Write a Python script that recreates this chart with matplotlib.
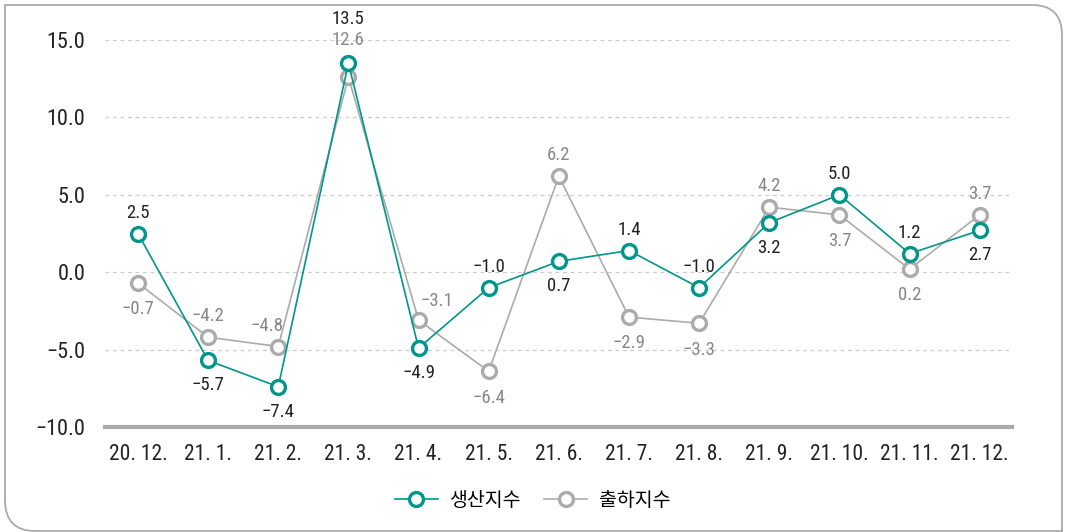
import matplotlib
matplotlib.use("Agg")
import matplotlib.pyplot as plt
from matplotlib.patches import PathPatch
from matplotlib.path import Path
from matplotlib.lines import Line2D
from matplotlib import font_manager
import logging
logging.getLogger("matplotlib.font_manager").setLevel(logging.ERROR)

categories = ["20. 12.", "21. 1.", "21. 2.", "21. 3.", "21. 4.", "21. 5.", "21. 6.",
              "21. 7.", "21. 8.", "21. 9.", "21. 10.", "21. 11.", "21. 12."]
production = [2.5, -5.7, -7.4, 13.5, -4.9, -1.0, 0.7, 1.4, -1.0, 3.2, 5.0, 1.2, 2.7]
shipment = [-0.7, -4.2, -4.8, 12.6, -3.1, -6.4, 6.2, -2.9, -3.3, 4.2, 3.7, 0.2, 3.7]
series_names = ["생산지수", "출하지수"]
yticks = [-10.0, -5.0, 0.0, 5.0, 10.0, 15.0]

# label placement (offset in points): (dx, dy)
prod_off = [(0, 15), (0, -18), (0, -18), (0, 32), (0, -18), (0, 15), (0, -18),
            (0, 15), (0, 15), (0, -18), (0, 15), (0, 15), (0, -18)]
ship_off = [(0, -19), (0, 15), (-8, 15), (0, 27), (13, 14), (0, -19), (0, 15),
            (0, -19), (0, -19), (0, 15), (0, -19), (0, -19), (0, 15)]

names = {f.name for f in font_manager.fontManager.ttflist}
num_font = "DejaVu Sans"
for cand in ["Roboto Condensed", "Liberation Sans Narrow", "Open Sans Condensed", "Roboto"]:
    if cand in names:
        num_font = cand
        break

GREEN = "#00968C"
GRAY = "#ABABAB"

fig = plt.figure(figsize=(10.65, 5.32), dpi=100)
W, H = 1065.0, 532.0
def P(x, y):
    return (x / W, 1 - y / H)
verts = [P(5, 500), P(5, 5), P(1032, 5), P(1062, 5), P(1062, 35), P(1062, 534),
         P(5, 500), P(5, 531), P(35, 531), P(1062, 531)]
codes = [Path.MOVETO, Path.LINETO, Path.LINETO, Path.CURVE3, Path.CURVE3, Path.LINETO,
         Path.MOVETO, Path.CURVE3, Path.CURVE3, Path.LINETO]
fig.patches.append(PathPatch(Path(verts, codes), transform=fig.transFigure,
                             fill=False, edgecolor="#AAAAAA", linewidth=1.3))

ax = fig.add_axes([105 / W, 1 - 427 / H, (1012 - 105) / W, (427 - 40) / H])
ax.set_ylim(-10, 15)
ax.set_xlim(-0.47, len(categories) - 1 + 0.46)
x = list(range(len(categories)))

for y in yticks[1:]:
    ax.axhline(y, color="#CCCCCC", linestyle=(0, (3, 3)), linewidth=0.9, zorder=0)
ax.axhline(-10, color="#AAAAAA", linewidth=3, zorder=1, clip_on=False)

ax.plot(x, shipment, color=GRAY, linewidth=1.2, marker="o", markersize=10,
        markerfacecolor="white", markeredgecolor=GRAY, markeredgewidth=2.4, zorder=3)
ax.plot(x, production, color=GREEN, linewidth=1.2, marker="o", markersize=10,
        markerfacecolor="white", markeredgecolor=GREEN, markeredgewidth=2.4, zorder=4)

def fmt(v):
    return f"{v:.1f}".replace("-", "\u2212")

for xi, v, (dx, dy) in zip(x, production, prod_off):
    ax.annotate(fmt(v), (xi, v), xytext=(dx, dy), textcoords="offset points",
                ha="center", va="center", fontsize=13.5, color="#222222",
                family=num_font, annotation_clip=False, zorder=5)
for xi, v, (dx, dy) in zip(x, shipment, ship_off):
    ax.annotate(fmt(v), (xi, v), xytext=(dx, dy), textcoords="offset points",
                ha="center", va="center", fontsize=13.5, color="#888888",
                family=num_font, annotation_clip=False, zorder=5)

for s in ax.spines.values():
    s.set_visible(False)
ax.set_yticks(yticks)
ax.set_yticklabels([fmt(t) for t in yticks], family=num_font, fontsize=16, color="#222222")
ax.set_xticks(x)
ax.set_xticklabels(categories, family=num_font, fontsize=15.5, color="#222222")
ax.tick_params(axis="both", length=0)
ax.tick_params(axis="y", pad=14)
ax.tick_params(axis="x", pad=12)

handles = [
    Line2D([0], [0], color=GREEN, linewidth=1.2, marker="o", markersize=10,
           markerfacecolor="white", markeredgecolor=GREEN, markeredgewidth=2.4),
    Line2D([0], [0], color=GRAY, linewidth=1.2, marker="o", markersize=10,
           markerfacecolor="white", markeredgecolor=GRAY, markeredgewidth=2.4),
]
fig.legend(handles, series_names, loc="center", bbox_to_anchor=(0.5, 1 - 500 / H),
           ncol=2, frameon=False, handlelength=2.2, handletextpad=0.6, columnspacing=1.2,
           prop={"family": ["Noto Sans CJK KR", "DejaVu Sans"], "size": 14})

fig.savefig("out.png", dpi=100)
